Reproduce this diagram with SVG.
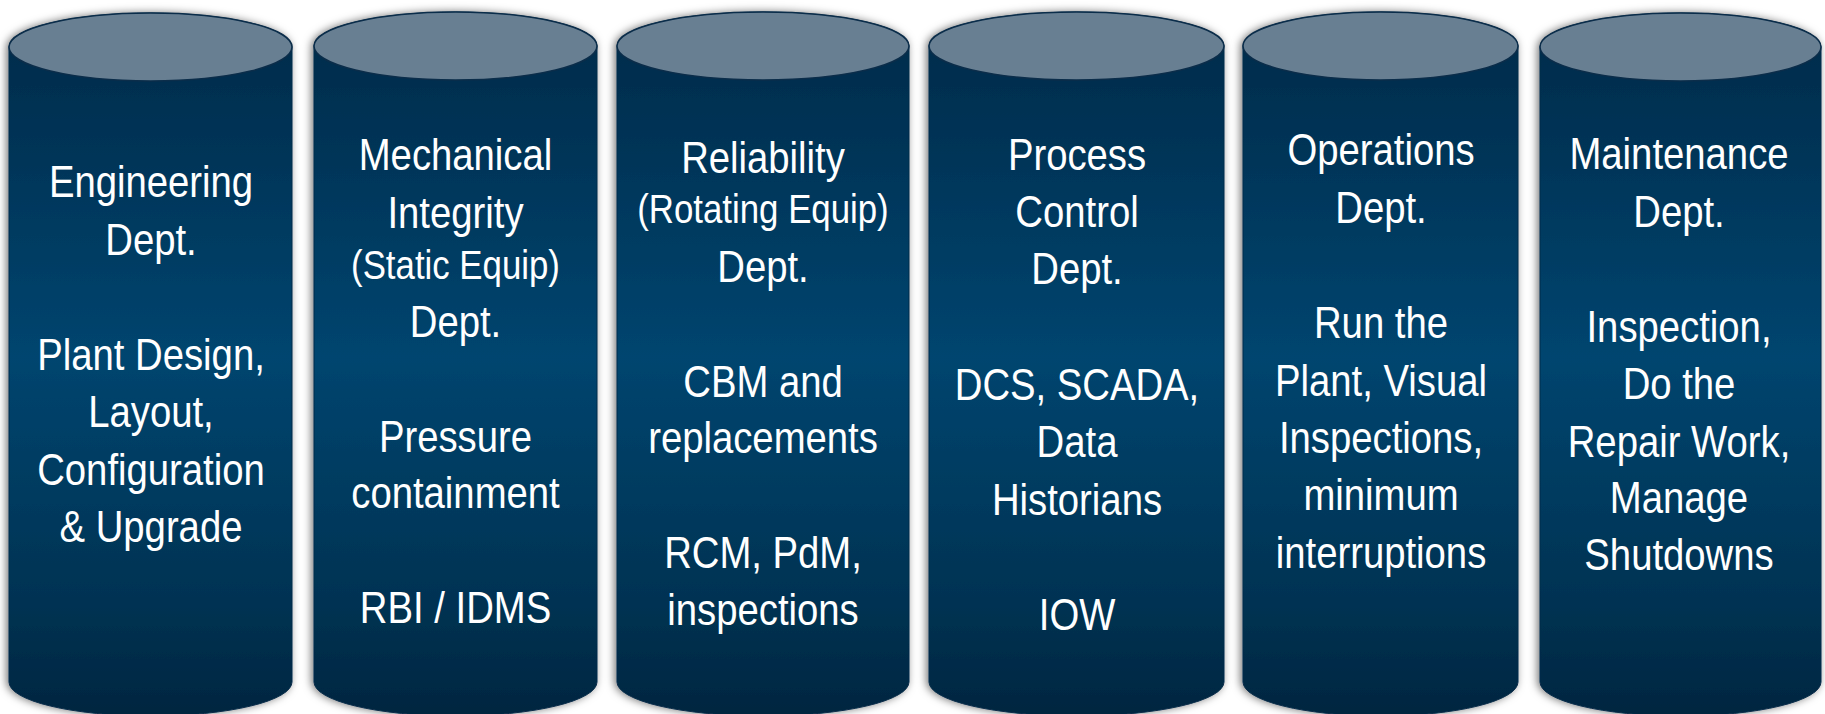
<svg xmlns="http://www.w3.org/2000/svg" width="1825" height="714" viewBox="0 0 1825 714">
<defs>
<linearGradient id="body" x1="0" y1="0" x2="0" y2="714" gradientUnits="userSpaceOnUse">
<stop offset="0" stop-color="#002C4B"/>
<stop offset="0.12" stop-color="#002F50"/>
<stop offset="0.5" stop-color="#00456F"/>
<stop offset="0.85" stop-color="#003252"/>
<stop offset="1" stop-color="#002640"/>
</linearGradient>
<filter id="sh" x="-10%" y="-10%" width="120%" height="120%">
<feDropShadow dx="-2" dy="0" stdDeviation="4" flood-color="#000" flood-opacity="0.55"/>
</filter>
</defs>
<style>
.body{fill:url(#body);stroke:#0B2D4A;stroke-width:1}
.top{fill:#687F92;stroke:#0B2D4A;stroke-width:1.5}
.lbl{fill:#FFFFFF;font-family:"Liberation Sans",Arial,sans-serif;font-size:44px;text-anchor:middle}
.sm{font-size:40px}
</style>
<rect width="1825" height="714" fill="#FFFFFF"/>
<g id="connectors"/>

<g id="engineering">
<g filter="url(#sh)">
<path class="body" d="M9,47 L9,682 A141.5,34 0 0 0 292,682 L292,47 A141.5,34 0 0 0 9,47 Z"/>
</g>
<ellipse class="top" cx="150.5" cy="47" rx="141.5" ry="34"/>
<g transform="translate(151,0) scale(0.87,1)">
<text class="lbl"><tspan x="0" y="197">Engineering</tspan><tspan x="0" y="255">Dept.</tspan><tspan x="0" y="370">Plant Design,</tspan><tspan x="0" y="427">Layout,</tspan><tspan x="0" y="485">Configuration</tspan><tspan x="0" y="542">&amp; Upgrade</tspan></text>
</g>
</g>

<g id="mechanical">
<g filter="url(#sh)">
<path class="body" d="M314,46 L314,682 A141.5,34 0 0 0 597,682 L597,46 A141.5,34 0 0 0 314,46 Z"/>
</g>
<ellipse class="top" cx="455.5" cy="46" rx="141.5" ry="34"/>
<g transform="translate(455.5,0) scale(0.87,1)">
<text class="lbl"><tspan x="0" y="170">Mechanical</tspan><tspan x="0" y="228">Integrity</tspan><tspan x="0" y="279" class="sm">(Static Equip)</tspan><tspan x="0" y="337">Dept.</tspan><tspan x="0" y="452">Pressure</tspan><tspan x="0" y="508">containment</tspan><tspan x="0" y="623">RBI / IDMS</tspan></text>
</g>
</g>

<g id="reliability">
<g filter="url(#sh)">
<path class="body" d="M617,46 L617,682 A146,34 0 0 0 909,682 L909,46 A146,34 0 0 0 617,46 Z"/>
</g>
<ellipse class="top" cx="763" cy="46" rx="146" ry="34"/>
<g transform="translate(763,0) scale(0.87,1)">
<text class="lbl"><tspan x="0" y="173">Reliability</tspan><tspan x="0" y="223" class="sm">(Rotating Equip)</tspan><tspan x="0" y="282">Dept.</tspan><tspan x="0" y="397">CBM and</tspan><tspan x="0" y="453">replacements</tspan><tspan x="0" y="568">RCM, PdM,</tspan><tspan x="0" y="625">inspections</tspan></text>
</g>
</g>

<g id="process-control">
<g filter="url(#sh)">
<path class="body" d="M929,46 L929,682 A147.5,34 0 0 0 1224,682 L1224,46 A147.5,34 0 0 0 929,46 Z"/>
</g>
<ellipse class="top" cx="1076.5" cy="46" rx="147.5" ry="34"/>
<g transform="translate(1077,0) scale(0.87,1)">
<text class="lbl"><tspan x="0" y="170">Process</tspan><tspan x="0" y="227">Control</tspan><tspan x="0" y="284">Dept.</tspan><tspan x="0" y="400">DCS, SCADA,</tspan><tspan x="0" y="457">Data</tspan><tspan x="0" y="515">Historians</tspan><tspan x="0" y="630">IOW</tspan></text>
</g>
</g>

<g id="operations">
<g filter="url(#sh)">
<path class="body" d="M1243,46 L1243,682 A137.5,34 0 0 0 1518,682 L1518,46 A137.5,34 0 0 0 1243,46 Z"/>
</g>
<ellipse class="top" cx="1380.5" cy="46" rx="137.5" ry="34"/>
<g transform="translate(1381,0) scale(0.87,1)">
<text class="lbl"><tspan x="0" y="165">Operations</tspan><tspan x="0" y="223">Dept.</tspan><tspan x="0" y="338">Run the</tspan><tspan x="0" y="396">Plant, Visual</tspan><tspan x="0" y="453">Inspections,</tspan><tspan x="0" y="510">minimum</tspan><tspan x="0" y="568">interruptions</tspan></text>
</g>
</g>

<g id="maintenance">
<g filter="url(#sh)">
<path class="body" d="M1540,47 L1540,682 A140.5,34 0 0 0 1821,682 L1821,47 A140.5,34 0 0 0 1540,47 Z"/>
</g>
<ellipse class="top" cx="1680.5" cy="47" rx="140.5" ry="34"/>
<g transform="translate(1679,0) scale(0.87,1)">
<text class="lbl"><tspan x="0" y="169">Maintenance</tspan><tspan x="0" y="227">Dept.</tspan><tspan x="0" y="342">Inspection,</tspan><tspan x="0" y="399">Do the</tspan><tspan x="0" y="457">Repair Work,</tspan><tspan x="0" y="513">Manage</tspan><tspan x="0" y="570">Shutdowns</tspan></text>
</g>
</g>
</svg>
